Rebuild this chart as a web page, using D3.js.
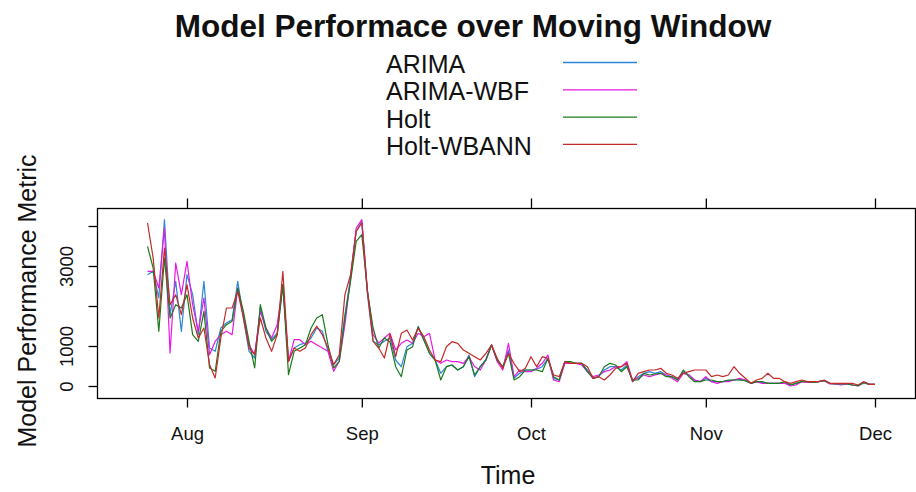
<!DOCTYPE html>
<html>
<head>
<meta charset="utf-8">
<script src="https://cdn.jsdelivr.net/npm/d3@7"></script>
<style>
  html, body { margin: 0; padding: 0; background: #fff; }
  svg { display: block; font-family: "Liberation Sans", Arial, sans-serif; }
</style>
</head>
<body>
<svg id="chart" width="916" height="492"></svg>
<script>
// ---- data ----
const startDate = new Date(2020, 6, 25); // first observation (Jul 25)
const seriesNames = ["ARIMA", "ARIMA-WBF", "Holt", "Holt-WBANN"];
const seriesColors = ["#2a86d8", "#e619e6", "#1b7a1b", "#c42a2a"];
const monthTicks = [new Date(2020,7,1), new Date(2020,8,1), new Date(2020,9,1), new Date(2020,10,1), new Date(2020,11,1)];
const monthLabels = ["Aug", "Sep", "Oct", "Nov", "Dec"];
const yTicks = [0, 1000, 2000, 3000, 4000];
const yTickLabels = ["0", "1000", "", "3000", ""];

const arima = [2783,2867,2200,4158,1783,2617,1367,2783,2283,1283,2617,950,867,1450,1575,1658,2617,1700,867,700,
  1950,1367,1158,1325,2533,617,950,1033,1075,1200,1450,1367,867,533,700,1783,2700,3867,4117,2283,
  1117,1033,1117,1200,650,483,983,1067,1483,1150,817,650,317,483,525,400,483,775,233,483,
  650,1025,650,483,900,200,317,400,400,417,483,692,192,150,608,567,567,567,400,192,
  233,400,483,483,400,525,108,233,317,358,317,358,275,233,167,358,275,150,108,192,
  108,108,108,133,150,167,133,67,108,83,67,67,67,67,25,67,108,108,92,108,
  133,67,50,50,50,25,8,83,42,42];
const arimaWbf = [2867,2867,2450,3950,825,3075,2283,3117,2033,1367,2200,783,1117,1283,1367,1283,2450,1783,1033,783,
  1867,1450,1200,1533,2533,617,1158,1158,1033,1117,1033,950,867,367,617,1533,2700,3950,4158,2367,
  1283,1075,1200,1317,900,1067,1150,1067,1317,1233,1317,650,567,650,608,608,567,733,483,400,
  650,1025,608,400,1067,233,400,358,358,442,567,775,150,108,567,567,567,525,358,233,
  275,358,400,483,483,608,150,192,275,233,275,317,275,192,108,317,275,150,108,233,
  108,67,108,108,150,192,150,67,108,67,67,67,67,67,0,25,108,92,92,108,
  133,50,50,25,50,25,0,108,42,42];
const holt = [3492,2950,1367,3200,1700,2033,1950,2283,1283,1117,1867,450,367,1367,1533,1617,2450,1867,1117,450,
  2033,1450,1117,1283,2533,283,867,950,1033,1450,1700,1783,1033,450,617,1700,2617,3617,3783,2367,
  1450,950,1200,1100,483,233,900,983,1483,1150,817,650,150,483,525,400,483,733,275,483,
  650,1025,650,483,817,150,233,400,400,400,358,692,233,150,608,608,567,567,358,192,
  233,483,567,525,358,483,150,150,317,275,300,317,233,233,150,400,233,108,108,150,
  150,108,108,150,150,150,133,67,108,108,67,67,67,108,25,67,108,108,92,108,
  133,67,50,50,50,25,8,83,42,42];
const holtWbann = [4075,3200,1700,3450,2033,2283,1783,2533,1700,1200,1450,533,200,1200,1950,1950,2367,1700,950,783,
  1700,1200,867,1283,2867,617,950,867,950,1283,1492,1283,950,533,783,2283,2783,3867,4075,2367,
  1117,950,700,1300,733,1317,1400,1150,1442,1233,900,650,608,983,1108,1067,900,817,733,650,
  817,1025,692,442,817,560,358,442,733,483,733,692,275,233,608,567,567,567,483,192,
  233,150,275,442,483,567,108,317,358,400,400,442,317,275,192,317,358,400,400,400,
  233,275,233,275,483,317,192,67,150,192,317,192,192,108,67,108,150,108,108,108,
  150,67,67,67,67,67,25,108,42,42];
const seriesValues = [arima, arimaWbf, holt, holtWbann];

// ---- layout ----
const svg = d3.select("#chart");
const box = { left: 97, right: 915, top: 208, bottom: 398 };

const x = d3.scaleTime().domain([monthTicks[0], monthTicks[4]]).range([187, 875]);
const y = d3.scaleLinear().domain([0, 4000]).range([386, 226]);

const dates = arima.map((_, i) => d3.timeDay.offset(startDate, i));

// lines
const line = d3.line().x((d, i) => x(dates[i])).y(d => y(d));
seriesValues.forEach((vals, k) => {
  svg.append("path")
    .datum(vals)
    .attr("d", line)
    .attr("fill", "none")
    .attr("stroke", seriesColors[k])
    .attr("stroke-width", 1.2)
    .attr("stroke-linejoin", "round");
});

// box
svg.append("rect")
  .attr("x", box.left + 0.5).attr("y", box.top + 0.5)
  .attr("width", box.right - box.left).attr("height", box.bottom - box.top)
  .attr("fill", "none").attr("stroke", "#000").attr("stroke-width", 1.3);

// bottom axis
const xAxis = d3.axisBottom(x).tickValues(monthTicks).tickFormat((d, i) => monthLabels[i]).tickSize(9).tickPadding(19);
const gx = svg.append("g").attr("transform", `translate(0,${box.bottom + 0.5})`).call(xAxis);
gx.select(".domain").remove();
gx.selectAll("line").attr("stroke-width", 1.3);
gx.selectAll("text").attr("font-size", 18.5).attr("font-family", "Liberation Sans, Arial, sans-serif").attr("fill", "#111");

// top ticks
const xTop = d3.axisTop(x).tickValues(monthTicks).tickFormat("").tickSize(10);
const gt = svg.append("g").attr("transform", `translate(0,${box.top + 0.5})`).call(xTop);
gt.select(".domain").remove();
gt.selectAll("line").attr("stroke-width", 1.3);

// left axis
const yAxis = d3.axisLeft(y).tickValues(yTicks).tickFormat((d, i) => yTickLabels[i]).tickSize(9);
const gy = svg.append("g").attr("transform", `translate(${box.left + 0.5},0)`).call(yAxis);
gy.select(".domain").remove();
gy.selectAll("line").attr("stroke-width", 1.3);
gy.selectAll("text")
  .attr("font-size", 18.5).attr("font-family", "Liberation Sans, Arial, sans-serif").attr("fill", "#111")
  .attr("x", null).attr("dy", null)
  .attr("text-anchor", "middle")
  .attr("transform", "translate(-25,0) rotate(-90)");

// titles
svg.append("text").attr("x", 473).attr("y", 37).attr("text-anchor", "middle")
  .attr("font-size", 31.5).attr("font-weight", "bold").attr("fill", "#111")
  .text("Model Performace over Moving Window");
svg.append("text").attr("x", 508).attr("y", 484).attr("text-anchor", "middle")
  .attr("font-size", 25).attr("fill", "#111").text("Time");
svg.append("text").attr("transform", "translate(36,301) rotate(-90)").attr("text-anchor", "middle")
  .attr("font-size", 25).attr("fill", "#111").text("Model Performance Metric");

// legend
const legendTop = 73, legendStep = 27.3;
seriesNames.forEach((name, k) => {
  const by = legendTop + k * legendStep;
  svg.append("text").attr("x", 386).attr("y", by).attr("font-size", 25).attr("fill", "#111").text(name);
  svg.append("line").attr("x1", 563).attr("x2", 637).attr("y1", by - 10.5).attr("y2", by - 10.5)
    .attr("stroke", seriesColors[k]).attr("stroke-width", 1.3);
});
</script>
</body>
</html>
